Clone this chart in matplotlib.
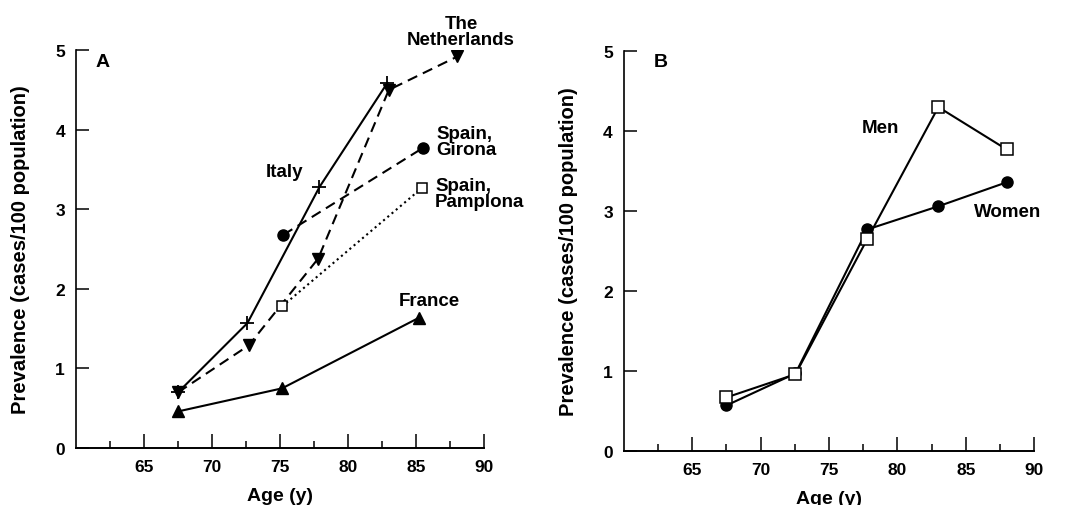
import matplotlib.pyplot as plt
import numpy as np

plt.rcParams['font.family'] = ['Liberation Sans', 'DejaVu Sans']
plt.rcParams['font.weight'] = 'bold'
plt.rcParams['axes.labelweight'] = 'bold'
plt.rcParams['font.size'] = 13.5

# panel A: prevalence by country
italy_age = [67.5, 72.6, 77.9, 82.9]
italy_prev = [0.70, 1.57, 3.28, 4.59]
neth_age = [67.5, 72.7, 77.8, 83.0, 88.05]
neth_prev = [0.70, 1.29, 2.38, 4.50, 4.92]
girona_age = [75.25, 85.5]
girona_prev = [2.68, 3.77]
pamplona_age = [75.15, 85.45]
pamplona_prev = [1.78, 3.27]
france_age = [67.5, 75.15, 85.25]
france_prev = [0.46, 0.75, 1.64]

# panel B: by sex
men_age = [67.5, 72.55, 77.8, 83.0, 88.0]
men_prev = [0.67, 0.96, 2.65, 4.30, 3.77]
women_age = [67.5, 72.55, 77.8, 83.0, 88.0]
women_prev = [0.57, 0.97, 2.77, 3.06, 3.36]

xticks = [65, 70, 75, 80, 85, 90]
yticks = [0, 1, 2, 3, 4, 5]

fig = plt.figure(figsize=(10.72, 5.06), dpi=100)
axA = fig.add_axes([0.071, 0.1126, 0.3805, 0.7864])
axB = fig.add_axes([0.582, 0.1067, 0.3826, 0.7903])

lw = 1.5
axA.plot(italy_age, italy_prev, '-', color='k', lw=lw, marker='+', ms=10, mew=1.3)
axA.plot(neth_age, neth_prev, '--', color='k', lw=lw, marker='v', ms=8,
         dashes=(5, 3))
axA.plot(girona_age, girona_prev, '--', color='k', lw=lw, marker='o', ms=8,
         dashes=(5, 3))
axA.plot(pamplona_age, pamplona_prev, ':', color='k', lw=lw, marker='s', ms=7,
         mfc='white', mew=1.1)
axA.plot(france_age, france_prev, '-', color='k', lw=lw, marker='^', ms=8)

axB.plot(men_age, men_prev, '-', color='k', lw=lw, marker='s', ms=8,
         mfc='white', mew=1.1, zorder=3)
axB.plot(women_age, women_prev, '-', color='k', lw=lw, marker='o', ms=8)

for ax in (axA, axB):
    ax.set_xlim(60, 90)
    ax.set_ylim(0, 5)
    ax.set_xticks(xticks)
    ax.set_xticks(np.arange(62.5, 90, 5), minor=True)
    ax.set_yticks(yticks)
    ax.spines['top'].set_visible(False)
    ax.spines['right'].set_visible(False)
    ax.spines['left'].set_linewidth(1.2)
    ax.spines['bottom'].set_linewidth(1.4)
    ax.tick_params(axis='x', which='major', direction='in', length=10, width=1.1,
                   pad=8, labelsize=12.5)
    ax.tick_params(axis='x', which='minor', direction='in', length=5, width=1.1)
    ax.tick_params(axis='y', direction='in', length=9, width=1.1, pad=8,
                   labelsize=12.5)
    ax.set_xlabel('Age (y)', fontsize=14, labelpad=9)
    ax.set_ylabel('Prevalence (cases/100 population)', fontsize=14.5, labelpad=18)

axA.text(61.4, 4.86, 'A', fontsize=14, va='center', ha='left')
axA.text(88.3, 5.23, 'The\nNetherlands', ha='center', va='center', linespacing=0.95)
axA.text(75.3, 3.47, 'Italy', ha='center', va='center')
axA.text(86.5, 3.85, 'Spain,\nGirona', ha='left', va='center', linespacing=0.95)
axA.text(86.4, 3.2, 'Spain,\nPamplona', ha='left', va='center', linespacing=0.95)
axA.text(85.95, 1.85, 'France', ha='center', va='center')

axB.text(62.15, 4.87, 'B', fontsize=14, va='center', ha='left')
axB.text(78.8, 4.05, 'Men', ha='center', va='center')
axB.text(88.06, 2.99, 'Women', ha='center', va='center')

fig.savefig('out.png', dpi=100)
